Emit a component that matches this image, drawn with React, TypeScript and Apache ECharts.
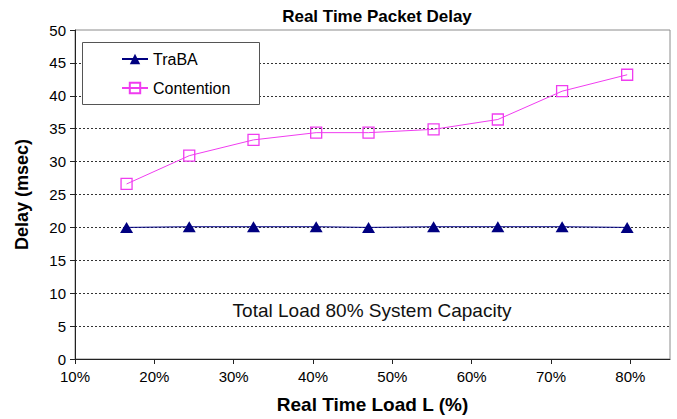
import React, { useEffect, useRef } from "react";
import * as echarts from "echarts";

const loadPct = [16.5, 24.4, 32.5, 40.4, 47.0, 55.2, 63.3, 71.4, 79.6];
const traBA = [20.0, 20.1, 20.1, 20.1, 20.0, 20.1, 20.1, 20.1, 20.0];
const contention = [26.6, 30.9, 33.3, 34.4, 34.4, 34.9, 36.4, 40.7, 43.2];
const seriesNames = ["TraBA", "Contention"];
const titleText = "Real Time Packet Delay";
const xName = "Real Time Load L (%)";
const yName = "Delay (msec)";
const note = "Total Load 80% System Capacity";

const FONT = "'Liberation Sans', Arial, sans-serif";

export default function App() {
  const ref = useRef<HTMLDivElement>(null);
  useEffect(() => {
    if (!ref.current) return;
    const chart = echarts.init(ref.current, undefined, { renderer: "svg" });
    chart.setOption({
      animation: false,
      backgroundColor: "#ffffff",
      textStyle: { fontFamily: FONT },
      title: {
        text: titleText,
        left: 372,
        textAlign: "center",
        top: 3,
        textStyle: { fontSize: 17, fontWeight: "bold", color: "#000", fontFamily: FONT },
      },
      grid: {
        left: 75,
        right: 7,
        top: 30,
        bottom: 57,
        show: true,
        borderColor: "#8c8c8c",
        borderWidth: 1,
        backgroundColor: "transparent",
      },
      legend: {
        orient: "vertical",
        left: 116,
        top: 46,
        itemWidth: 26,
        itemHeight: 13,
        itemGap: 13,
        z: 10,
        data: seriesNames,
        textStyle: { fontSize: 16, color: "#000", fontFamily: FONT },
      },
      xAxis: {
        type: "value",
        min: 10,
        max: 85,
        interval: 10,
        name: xName,
        nameLocation: "middle",
        nameGap: 36,
        nameTextStyle: { fontSize: 19, fontWeight: "bold", color: "#000", fontFamily: FONT },
        axisLine: { show: true, lineStyle: { color: "#222", width: 1 } },
        axisTick: { show: true, length: 5, lineStyle: { color: "#222" } },
        axisLabel: {
          fontSize: 15,
          color: "#000",
          margin: 10,
          showMaxLabel: false,
          formatter: (v: number) => (v > 80 ? "" : v + "%"),
          fontFamily: FONT,
        },
        splitLine: { show: false },
      },
      yAxis: {
        type: "value",
        min: 0,
        max: 50,
        interval: 5,
        name: yName,
        nameLocation: "middle",
        nameGap: 44,
        nameTextStyle: { fontSize: 18, fontWeight: "bold", color: "#000", fontFamily: FONT },
        axisLine: { show: true, lineStyle: { color: "#222", width: 1 } },
        axisTick: { show: true, length: 5, lineStyle: { color: "#222" } },
        axisLabel: { fontSize: 15, color: "#000", margin: 9, fontFamily: FONT },
        splitLine: {
          show: true,
          showMaxLine: false,
          lineStyle: { color: "#333", type: [2, 2], width: 1 },
        },
      },
      graphic: [
        {
          type: "rect",
          shape: { x: 82.5, y: 42.5, width: 177, height: 62 },
          style: { fill: "#fff", stroke: "#555", lineWidth: 1 },
          z: 8,
        },
        {
          type: "text",
          x: 372,
          y: 310,
          style: {
            text: note,
            fontSize: 19,
            fontFamily: FONT,
            fill: "#111",
            textAlign: "center",
            textVerticalAlign: "middle",
          },
        },
      ],
      series: [
        {
          name: seriesNames[0],
          type: "line",
          data: loadPct.map((x, i) => [x, traBA[i]]),
          symbol: "triangle",
          symbolSize: [13, 11],
          lineStyle: { color: "#000080", width: 1 },
          itemStyle: { color: "#000080" },
          z: 3,
        },
        {
          name: seriesNames[1],
          type: "line",
          data: loadPct.map((x, i) => [x, contention[i]]),
          symbol: "rect",
          symbolSize: 11,
          lineStyle: { color: "#f03cf0", width: 1 },
          itemStyle: { color: "rgba(255,255,255,0)", borderColor: "#f03cf0", borderWidth: 1.3 },
          z: 3,
        },
      ],
    });
    return () => chart.dispose();
  }, []);
  return (
    <div
      ref={ref}
      style={{ position: "fixed", left: 0, top: 0, width: 677, height: 419 }}
    />
  );
}
